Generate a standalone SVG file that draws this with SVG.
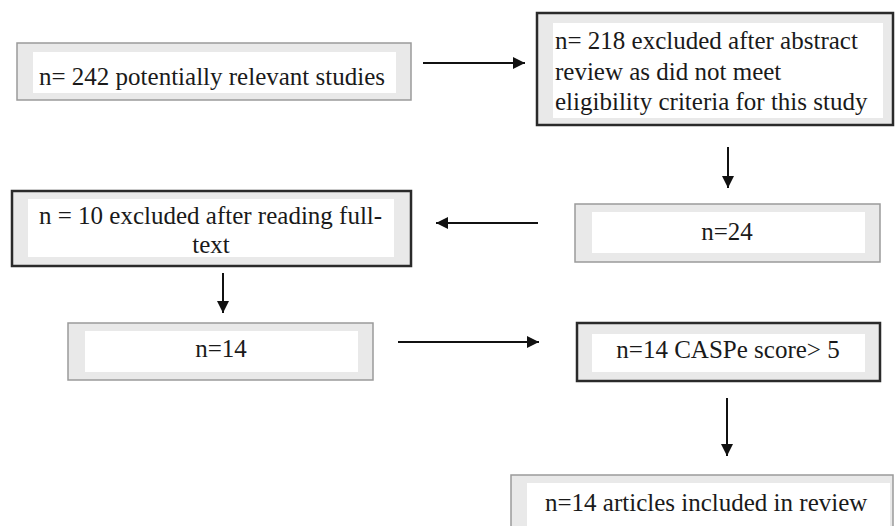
<svg xmlns="http://www.w3.org/2000/svg" width="895" height="526" viewBox="0 0 895 526">
<style>
.bg{fill:#fff}
.outer{fill:#e9e9e9;stroke:#9a9a9a;stroke-width:1.5}
.outer.thick{stroke:#2a2a2a;stroke-width:2.5}
.inner{fill:#fff;stroke:none}
text{font-family:"Liberation Serif","Times New Roman",serif;font-size:25px;fill:#1a1a1a}
.c{text-anchor:middle}
.conn{stroke:#111;stroke-width:2;fill:none;marker-end:url(#ah)}
</style>
<defs>
<marker id="ah" markerUnits="userSpaceOnUse" markerWidth="14" markerHeight="12" refX="12" refY="6" orient="auto">
<path d="M0,0 L12,6 L0,12 Z" fill="#111"/>
</marker>
</defs>
<rect class="bg" x="0" y="0" width="895" height="526"/>
<g id="n1">
<rect class="outer" x="17" y="43" width="394" height="57"/>
<rect class="inner" x="33" y="52" width="363" height="41"/>
<text x="39" y="85">n= 242 potentially relevant studies</text>
</g>
<g id="n2">
<rect class="outer thick" x="537" y="13" width="356" height="112"/>
<rect class="inner" x="553" y="23" width="330" height="95"/>
<text x="555" y="49">n= 218 excluded after abstract</text>
<text x="555" y="80">review as did not meet</text>
<text x="555" y="110">eligibility criteria for this study</text>
</g>
<g id="n3">
<rect class="outer thick" x="12" y="191" width="399" height="75"/>
<rect class="inner" x="28" y="199" width="366" height="58"/>
<text x="39" y="224">n = 10 excluded after reading full-</text>
<text class="c" x="211" y="253">text</text>
</g>
<g id="n4">
<rect class="outer" x="575" y="204" width="305" height="58"/>
<rect class="inner" x="592" y="212" width="273" height="41"/>
<text class="c" x="727" y="240">n=24</text>
</g>
<g id="n5">
<rect class="outer" x="68" y="323" width="305" height="57"/>
<rect class="inner" x="85" y="331" width="273" height="41"/>
<text class="c" x="221" y="357">n=14</text>
</g>
<g id="n6">
<rect class="outer thick" x="577" y="323" width="303" height="58"/>
<rect class="inner" x="592" y="334" width="273" height="38"/>
<text class="c" x="728" y="358">n=14 CASPe score&gt; 5</text>
</g>
<g id="n7">
<rect class="outer" x="511" y="475" width="382" height="60"/>
<rect class="inner" x="527" y="483" width="363" height="43"/>
<text x="545" y="511">n=14 articles included in review</text>
</g>
<g id="connectors">
<line class="conn" x1="423" y1="63" x2="525" y2="63"/>
<line class="conn" x1="728" y1="147" x2="728" y2="188"/>
<line class="conn" x1="538" y1="223" x2="436" y2="223"/>
<line class="conn" x1="223" y1="273" x2="223" y2="313"/>
<line class="conn" x1="398" y1="342" x2="539" y2="342"/>
<line class="conn" x1="727" y1="398" x2="727" y2="456"/>
</g>
</svg>
